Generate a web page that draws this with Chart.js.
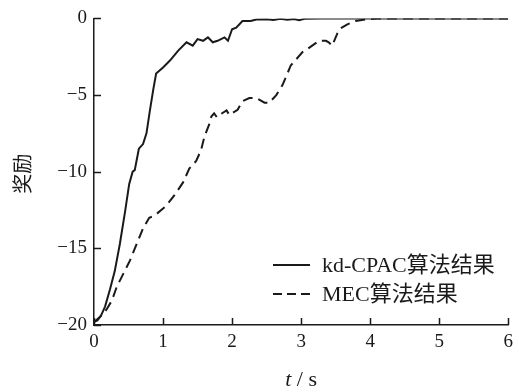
<!DOCTYPE html>
<html lang="zh">
<head>
    <meta charset="UTF-8">
    <title>奖励曲线</title>
    <script src="https://cdn.jsdelivr.net/npm/chart.js"></script>
    <style>
        html, body {
            margin: 0;
            padding: 0;
            background-color: #fff;
        }
        #box {
            width: 519px;
            height: 392px;
        }
    </style>
</head>
<body>
    <div id="box"><canvas id="rewardCanvas"></canvas></div>

    <script>
        // kd-CPAC curve (time in s, reward)
        const kdTime = [0, 0.05, 0.1, 0.16, 0.23, 0.30, 0.375, 0.45, 0.51, 0.56, 0.59, 0.65, 0.71, 0.76, 0.81,
            0.86, 0.90, 0.95, 1.0, 1.10, 1.22, 1.34, 1.43, 1.50, 1.58, 1.65, 1.72, 1.79, 1.89, 1.94, 2.0,
            2.06, 2.15, 2.27, 2.35, 2.5, 2.6, 2.7, 2.8, 2.9, 2.97, 3.05, 3.3, 4, 5, 6];
        const kdReward = [-19.8, -19.7, -19.4, -18.8, -17.7, -16.5, -14.7, -12.6, -10.8, -10.0, -9.9, -8.5, -8.2, -7.5, -6.0,
            -4.6, -3.6, -3.4, -3.2, -2.75, -2.1, -1.56, -1.78, -1.35, -1.46, -1.24, -1.56, -1.46, -1.24, -1.46, -0.71,
            -0.6, -0.17, -0.17, -0.07, -0.05, -0.1, -0.03, -0.08, -0.04, -0.12, -0.03, 0, 0, 0, 0];

        // MEC curve
        const mecTime = [0, 0.08, 0.18, 0.26, 0.33, 0.42, 0.52, 0.62, 0.71, 0.80, 0.86, 0.92, 1.0, 1.05, 1.17,
            1.29, 1.38, 1.48, 1.55, 1.60, 1.67, 1.70, 1.74, 1.78, 1.85, 1.92, 1.96, 2.08, 2.15, 2.25, 2.35,
            2.47, 2.54, 2.64, 2.73, 2.85, 3.02, 3.09, 3.26, 3.36, 3.40, 3.45, 3.49, 3.55, 3.67, 3.79, 3.93,
            4.1, 5, 6];
        const mecReward = [-19.8, -19.5, -19.0, -18.4, -17.5, -16.7, -15.8, -14.7, -13.7, -13.0, -12.9, -12.7, -12.4, -12.2, -11.5,
            -10.7, -9.8, -9.3, -8.6, -7.7, -6.9, -6.4, -6.2, -6.45, -6.2, -6.0, -6.3, -5.96, -5.4, -5.2, -5.2,
            -5.5, -5.5, -5.0, -4.35, -3.07, -2.2, -2.0, -1.46, -1.46, -1.56, -1.78, -1.35, -0.71, -0.39, -0.17, -0.07,
            0, 0, 0];

        const seriesNames = ['kd-CPAC算法结果', 'MEC算法结果'];
        const xTicks = [0, 1, 2, 3, 4, 5, 6];
        const yTicks = [-20, -15, -10, -5, 0];

        const serif = '"Liberation Serif", "Times New Roman", "Noto Sans CJK SC", serif';
        const ink = '#1a1a1a';

        function toPoints(xs, ys) {
            return xs.map((x, i) => ({ x: x, y: ys[i] }));
        }

        // inward ticks, axis titles and legend
        const decorPlugin = {
            id: 'decor',
            afterDraw(chart) {
                const ctx = chart.ctx;
                const xs = chart.scales.x;
                const ys = chart.scales.y;
                const area = chart.chartArea;
                ctx.save();
                ctx.strokeStyle = ink;
                ctx.lineWidth = 1.5;
                ctx.beginPath();
                xTicks.forEach(v => {
                    const px = Math.round(xs.getPixelForValue(v)) + 0.5;
                    ctx.moveTo(px, area.bottom);
                    ctx.lineTo(px, area.bottom - 7);
                });
                yTicks.forEach(v => {
                    const py = Math.round(ys.getPixelForValue(v)) + 0.5;
                    ctx.moveTo(area.left, py);
                    ctx.lineTo(area.left + 7, py);
                });
                ctx.stroke();

                // x title
                ctx.fillStyle = ink;
                ctx.textBaseline = 'middle';
                ctx.textAlign = 'left';
                const cx = (area.left + area.right) / 2;
                ctx.font = 'italic 22px ' + serif;
                const tW = ctx.measureText('t').width;
                ctx.font = '22px ' + serif;
                const restW = ctx.measureText(' / s').width;
                let sx = cx - (tW + restW) / 2;
                ctx.font = 'italic 22px ' + serif;
                ctx.fillText('t', sx, 380);
                ctx.font = '22px ' + serif;
                ctx.fillText(' / s', sx + tW, 380);

                // y title
                ctx.save();
                ctx.translate(22, (area.top + area.bottom) / 2 + 2);
                ctx.rotate(-Math.PI / 2);
                ctx.textAlign = 'center';
                ctx.font = '20px "Noto Sans CJK SC", sans-serif';
                ctx.fillText('奖励', 0, 0);
                ctx.restore();

                // legend
                ctx.font = '22px ' + serif;
                ctx.textAlign = 'left';
                ctx.lineWidth = 2;
                const rows = [{ y: 265, dash: [] }, { y: 294, dash: [9, 5] }];
                rows.forEach((r, i) => {
                    ctx.setLineDash(r.dash);
                    ctx.beginPath();
                    ctx.moveTo(273, r.y);
                    ctx.lineTo(310, r.y);
                    ctx.stroke();
                    ctx.setLineDash([]);
                    ctx.fillText(seriesNames[i], 322, r.y + 1);
                });
                ctx.restore();
            }
        };

        const ctx = document.getElementById('rewardCanvas').getContext('2d');
        const rewardChart = new Chart(ctx, {
            type: 'line',
            data: {
                datasets: [{
                    label: seriesNames[0],
                    data: toPoints(kdTime, kdReward),
                    borderColor: ink,
                    borderWidth: 2,
                    pointRadius: 0,
                    tension: 0
                }, {
                    label: seriesNames[1],
                    data: toPoints(mecTime, mecReward),
                    borderColor: ink,
                    borderWidth: 2,
                    borderDash: [10, 6],
                    pointRadius: 0,
                    tension: 0
                }]
            },
            options: {
                responsive: true,
                maintainAspectRatio: false,
                animation: false,
                layout: {
                    padding: { left: 0, right: 9, top: 14, bottom: 0 }
                },
                plugins: {
                    legend: { display: false },
                    tooltip: { enabled: false }
                },
                scales: {
                    x: {
                        type: 'linear',
                        min: 0,
                        max: 6,
                        afterBuildTicks: (axis) => { axis.ticks = xTicks.map(v => ({ value: v })); },
                        afterFit: (axis) => { axis.height = 67; },
                        grid: { display: false, drawTicks: false },
                        border: { color: ink, width: 1.5 },
                        ticks: {
                            color: ink,
                            padding: 6,
                            maxRotation: 0,
                            font: { family: serif, size: 19 }
                        }
                    },
                    y: {
                        type: 'linear',
                        min: -20,
                        max: 0,
                        afterBuildTicks: (axis) => { axis.ticks = yTicks.map(v => ({ value: v })); },
                        afterFit: (axis) => { axis.width = 94; },
                        grid: { display: false, drawTicks: false },
                        border: { color: ink, width: 1.5 },
                        ticks: {
                            color: ink,
                            padding: 7,
                            font: { family: serif, size: 19 },
                            callback: (v) => String(v).replace('-', '\u2212')
                        }
                    }
                }
            },
            plugins: [decorPlugin]
        });
    </script>
</body>
</html>
